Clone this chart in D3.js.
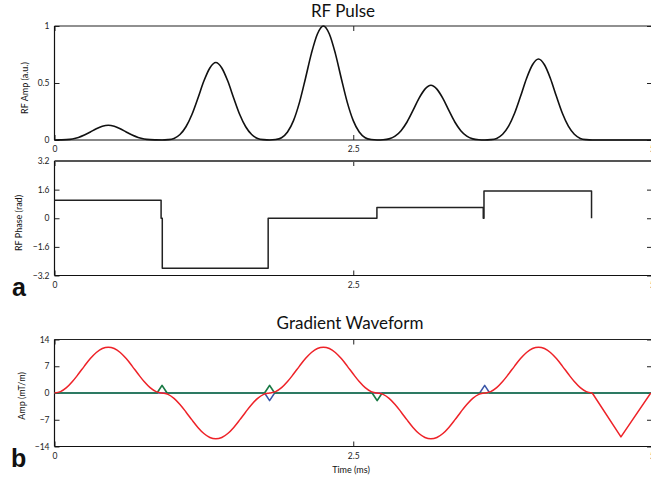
<!DOCTYPE html>
<html>
<head>
<meta charset="utf-8">
<script src="https://cdn.jsdelivr.net/npm/d3@7"></script>
<style>
  body { margin: 0; background: #fff; }
  svg { display: block; }
</style>
</head>
<body>
<svg id="chart" width="651" height="483"></svg>
<script>
// ---------- data ----------
// RF pulse amplitude (a.u.), sampled every 0.05 ms over the five sub-pulses
const rfTime = [
  0, 0.05, 0.1, 0.15, 0.2, 0.25, 0.3, 0.35, 0.4, 0.45, 0.5, 0.55, 0.6, 0.65, 0.7, 0.75, 0.8, 0.85,
  0.9, 0.95, 1.0, 1.05, 1.1, 1.15, 1.2, 1.25, 1.3, 1.35, 1.4, 1.45, 1.5, 1.55, 1.6, 1.65, 1.7, 1.75,
  1.8, 1.85, 1.9, 1.95, 2.0, 2.05, 2.1, 2.15, 2.2, 2.25, 2.3, 2.35, 2.4, 2.45, 2.5, 2.55, 2.6, 2.65,
  2.7, 2.75, 2.8, 2.85, 2.9, 2.95, 3.0, 3.05, 3.1, 3.15, 3.2, 3.25, 3.3, 3.35, 3.4, 3.45, 3.5, 3.55,
  3.6, 3.65, 3.7, 3.75, 3.8, 3.85, 3.9, 3.95, 4.0, 4.05, 4.1, 4.15, 4.2, 4.25, 4.3, 4.35, 4.4, 4.45,
  4.5, 5.0
];
const rfAmp = [
  0, 0.001, 0.003, 0.009, 0.022, 0.043, 0.070, 0.099, 0.121, 0.130, 0.121, 0.099, 0.070, 0.043, 0.022, 0.009, 0.003, 0.001,
  0, 0.003, 0.014, 0.048, 0.116, 0.224, 0.367, 0.517, 0.632, 0.680, 0.632, 0.517, 0.367, 0.224, 0.116, 0.048, 0.014, 0.003,
  0, 0.004, 0.020, 0.070, 0.170, 0.330, 0.540, 0.760, 0.930, 1.000, 0.930, 0.760, 0.540, 0.330, 0.170, 0.070, 0.020, 0.004,
  0, 0.002, 0.010, 0.034, 0.082, 0.158, 0.259, 0.365, 0.446, 0.480, 0.446, 0.365, 0.259, 0.158, 0.082, 0.034, 0.010, 0.002,
  0, 0.003, 0.014, 0.050, 0.121, 0.234, 0.383, 0.540, 0.660, 0.710, 0.660, 0.540, 0.383, 0.234, 0.121, 0.050, 0.014, 0.003,
  0, 0
];

// RF phase (rad), piecewise constant per sub-pulse
const phaseTime = [0, 0.892, 0.892, 0.902, 0.902, 1.788, 1.788, 2.698, 2.698, 3.588, 3.588, 3.594, 3.594, 4.494, 4.494];
const phaseVal  = [1.0, 1.0, 0, 0, -2.8, -2.8, 0, 0, 0.6, 0.6, 0, 0, 1.52, 1.52, 0];

// Gradient waveforms (mT/m)
const gradTime = rfTime.slice(0, 91);
const gradRed = [
  0, 0.36, 1.40, 3.00, 4.96, 7.04, 9.00, 10.60, 11.64, 12.00, 11.64, 10.60, 9.00, 7.04, 4.96, 3.00, 1.40, 0.36,
  0, -0.36, -1.40, -3.00, -4.96, -7.04, -9.00, -10.60, -11.64, -12.00, -11.64, -10.60, -9.00, -7.04, -4.96, -3.00, -1.40, -0.36,
  0, 0.36, 1.40, 3.00, 4.96, 7.04, 9.00, 10.60, 11.64, 12.00, 11.64, 10.60, 9.00, 7.04, 4.96, 3.00, 1.40, 0.36,
  0, -0.36, -1.40, -3.00, -4.96, -7.04, -9.00, -10.60, -11.64, -12.00, -11.64, -10.60, -9.00, -7.04, -4.96, -3.00, -1.40, -0.36,
  0, 0.36, 1.40, 3.00, 4.96, 7.04, 9.00, 10.60, 11.64, 12.00, 11.64, 10.60, 9.00, 7.04, 4.96, 3.00, 1.40, 0.36,
  0
];
// rewinder triangle at the end of the red waveform
const rampTime = [4.5, 4.74, 4.99];
const rampVal  = [0, -11.5, 0];

const greenTime = [0, 0.858, 0.9, 0.942, 1.758, 1.8, 1.842, 2.658, 2.7, 2.742, 5];
const greenVal  = [0, 0, 2, 0, 0, 2, 0, 0, -2, 0, 0];
const blueTime  = [0, 1.758, 1.8, 1.842, 3.558, 3.6, 3.642, 5];
const blueVal   = [0, 0, -2, 0, 0, 2, 0, 0];

// axis ticks
const timeTicks = [0, 2.5, 5];
const timeTickLabels = ["0", "2.5", "5"];
const ampTicks = [0, 0.5, 1];
const ampTickLabels = ["0", "0.5", "1"];
const phaseTicks = [-3.2, -1.6, 0, 1.6, 3.2];
const phaseTickLabels = ["\u22123.2", "\u22121.6", "0", "1.6", "3.2"];
const gradTicks = [-14, -7, 0, 7, 14];
const gradTickLabels = ["\u221214", "\u22127", "0", "7", "14"];

// ---------- layout ----------
const svg = d3.select("#chart");
const FONT = "Lato, 'Open Sans', sans-serif";
const x = d3.scaleLinear().domain([0, 5]).range([54.5, 652]);

function panel(yDomain, yRange, yTicks, yLabels, xLabelsShown, topStroke) {
  const y = d3.scaleLinear().domain(yDomain).range(yRange);
  const g = svg.append("g");
  const fmt = labels => (d, i) => labels[i];

  const left = g.append("g").attr("transform", `translate(${x.range()[0]},0)`)
    .call(d3.axisLeft(y).tickValues(yTicks).tickSize(-5).tickPadding(5).tickFormat(fmt(yLabels)));
  const right = g.append("g").attr("transform", `translate(${x.range()[1]},0)`)
    .call(d3.axisRight(y).tickValues(yTicks).tickSize(-5).tickFormat(""));
  const bottom = g.append("g").attr("transform", `translate(0,${yRange[0]})`)
    .call(d3.axisBottom(x).tickValues(timeTicks).tickSize(-5).tickPadding(6).tickFormat(fmt(timeTickLabels)));
  const top = g.append("g").attr("transform", `translate(0,${yRange[1]})`)
    .call(d3.axisTop(x).tickValues(timeTicks).tickSize(-5).tickFormat(""));

  [left, right, bottom, top].forEach(a => {
    a.select(".domain").remove();
    a.attr("font-family", FONT).attr("font-size", 8.5);
    a.selectAll(".tick line").attr("stroke", "#222");
    a.selectAll(".tick text").attr("fill", "#222");
  });

  // axes box
  const x0 = x.range()[0], x1 = x.range()[1];
  g.append("line").attr("x1", x0).attr("x2", x1).attr("y1", yRange[0]).attr("y2", yRange[0])
    .attr("stroke", "#111").attr("stroke-width", 1.2);
  g.append("line").attr("x1", x0).attr("x2", x1).attr("y1", yRange[1]).attr("y2", yRange[1])
    .attr("stroke", topStroke.color).attr("stroke-width", topStroke.width);
  g.append("line").attr("x1", x0).attr("x2", x0).attr("y1", yRange[0]).attr("y2", yRange[1])
    .attr("stroke", "#111").attr("stroke-width", 1.2);
  g.append("line").attr("x1", x1).attr("x2", x1).attr("y1", yRange[0]).attr("y2", yRange[1])
    .attr("stroke", "#111").attr("stroke-width", 1.2);
  return { g, y };
}

function drawLine(g, y, xs, ys, color, width, curve) {
  const pts = xs.map((t, i) => [t, ys[i]]);
  g.append("path")
    .datum(pts)
    .attr("fill", "none")
    .attr("stroke", color)
    .attr("stroke-width", width)
    .attr("stroke-linejoin", "round")
    .attr("d", d3.line().x(d => x(d[0])).y(d => y(d[1])).curve(curve || d3.curveLinear));
}

// ---------- RF amplitude ----------
const p1 = panel([0, 1], [140, 26], ampTicks, ampTickLabels, true, { color: "#222", width: 1.2 });
drawLine(p1.g, p1.y, rfTime, rfAmp, "#111", 1.6, d3.curveMonotoneX);

// ---------- RF phase ----------
const p2 = panel([-3.2, 3.2], [275.5, 161], phaseTicks, phaseTickLabels, true, { color: "#555", width: 2 });
drawLine(p2.g, p2.y, phaseTime, phaseVal, "#222", 1.5);

// ---------- gradients ----------
const p3 = panel([-14, 14], [446.5, 339.5], gradTicks, gradTickLabels, true, { color: "#222", width: 1.2 });
drawLine(p3.g, p3.y, blueTime, blueVal, "#3a56a8", 1.5);
drawLine(p3.g, p3.y, greenTime, greenVal, "#1a7a45", 1.7);
drawLine(p3.g, p3.y, gradTime, gradRed, "#ee2228", 1.5, d3.curveMonotoneX);
drawLine(p3.g, p3.y, rampTime, rampVal, "#ee2228", 1.5);

// ---------- titles and labels ----------
function label(txt, xp, yp, size, opts = {}) {
  const t = svg.append("text")
    .attr("x", xp).attr("y", yp)
    .attr("font-family", opts.family || FONT)
    .attr("font-size", size)
    .attr("font-weight", opts.weight || "normal")
    .attr("fill", opts.fill || "#111")
    .attr("text-anchor", opts.anchor || "middle")
    .text(txt);
  if (opts.rotate) t.attr("transform", `rotate(-90,${xp},${yp})`);
  return t;
}

label("RF Pulse", 343, 17, 17);
label("Gradient Waveform", 350, 329, 17);
label("RF Amp (a.u.)", 28, 88, 9, { rotate: true });
label("RF Phase (rad)", 22, 223, 9, { rotate: true });
label("Amp (mT/m)", 25, 396, 9, { rotate: true });
label("Time (ms)", 351, 473, 9);
label("a", 12, 296, 25, { anchor: "start", weight: "bold", family: "'Liberation Sans', Arial, sans-serif" });
label("b", 11, 467, 25, { anchor: "start", weight: "bold", family: "'Liberation Sans', Arial, sans-serif" });
</script>
</body>
</html>
